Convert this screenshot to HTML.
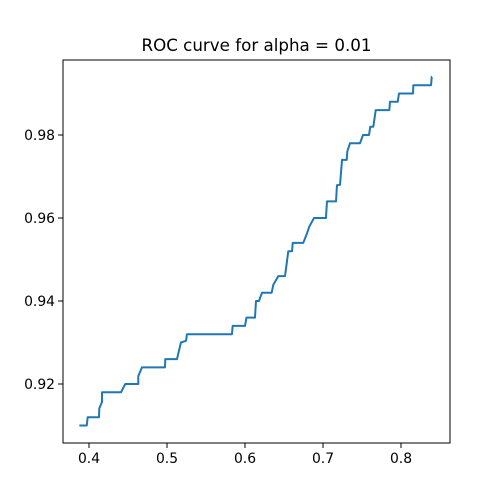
<!DOCTYPE html>
<html><head><meta charset="utf-8"><style>
body{margin:0;background:#fff;}
svg{display:block;font-family:"DejaVu Sans","Liberation Sans",sans-serif;}
</style></head><body>
<svg id="chart" width="500" height="498" viewBox="0 0 500 498">
<rect width="500" height="498" fill="#fff"/>
<text x="256.5" y="51" text-anchor="middle" font-size="16.7" fill="#000">ROC curve for alpha = 0.01</text>
<g id="xticks"></g>
<g id="yticks"></g>
<polyline id="curve" fill="none" stroke="#1f77b4" stroke-width="2" stroke-linejoin="round"/>
<rect x="63" y="60" width="387" height="383" fill="none" stroke="#000" stroke-width="1"/>
</svg>
<script>
const fprValues = [0.3876,0.3971,0.3983,0.4128,0.4132,0.4167,0.4167,0.4410,0.4465,0.4632,0.4632,0.4679,0.4974,0.4978,0.5128,0.5179,0.5244,0.5256,0.5833,0.5842,0.6000,0.6019,0.6128,0.6141,0.6179,0.6218,0.6342,0.6363,0.6427,0.6513,0.6555,0.6603,0.6612,0.6747,0.6795,0.6824,0.6885,0.7038,0.7051,0.7167,0.7179,0.7218,0.7244,0.7304,0.7312,0.7346,0.7474,0.7513,0.7590,0.7606,0.7645,0.7676,0.7850,0.7859,0.7958,0.7974,0.8154,0.8158,0.8385,0.8394,0.8397];
const tprValues = [0.910,0.910,0.912,0.912,0.9141,0.9157,0.918,0.918,0.920,0.920,0.9219,0.924,0.924,0.926,0.926,0.930,0.9304,0.932,0.932,0.934,0.934,0.936,0.936,0.940,0.940,0.942,0.942,0.9439,0.946,0.946,0.952,0.952,0.954,0.954,0.9563,0.9579,0.960,0.960,0.964,0.964,0.9679,0.968,0.974,0.974,0.9761,0.978,0.978,0.980,0.980,0.982,0.982,0.986,0.986,0.988,0.988,0.990,0.990,0.992,0.992,0.994,0.994];
const xTickValues = [0.4,0.5,0.6,0.7,0.8];
const xTickLabels = ["0.4","0.5","0.6","0.7","0.8"];
const yTickValues = [0.92,0.94,0.96,0.98];
const yTickLabels = ["0.92","0.94","0.96","0.98"];
const X0=63,X1=450,Y0=443,Y1=60;
const xMin=0.36667,xMax=0.86282,yMin=0.90578,yMax=0.99807;
function sx(v){return X0+(v-xMin)/(xMax-xMin)*(X1-X0);}
function sy(v){return Y0-(v-yMin)/(yMax-yMin)*(Y0-Y1);}
const NS="http://www.w3.org/2000/svg";
const xg=document.getElementById('xticks'), yg=document.getElementById('yticks');
xTickValues.forEach((v,i)=>{
  const x=sx(v);
  const l=document.createElementNS(NS,'line');
  l.setAttribute('x1',x);l.setAttribute('x2',x);l.setAttribute('y1',Y0);l.setAttribute('y2',Y0+5);l.setAttribute('stroke','#000');
  
  
  xg.appendChild(l);
  const t=document.createElementNS(NS,'text');
  t.setAttribute('x',x);t.setAttribute('y',Y0+20);t.setAttribute('text-anchor','middle');t.setAttribute('font-size','13.9');
  t.textContent=xTickLabels[i];
  
  
  xg.appendChild(t);
});
yTickValues.forEach((v,i)=>{
  const y=sy(v);
  const l=document.createElementNS(NS,'line');
  l.setAttribute('x1',X0-5);l.setAttribute('x2',X0);l.setAttribute('y1',y);l.setAttribute('y2',y);l.setAttribute('stroke','#000');
  
  
  yg.appendChild(l);
  const t=document.createElementNS(NS,'text');
  t.setAttribute('x',X0-8);t.setAttribute('y',y+5);t.setAttribute('text-anchor','end');t.setAttribute('font-size','13.9');
  t.textContent=yTickLabels[i];
  
  
  yg.appendChild(t);
});
document.getElementById('curve').setAttribute('points',fprValues.map((v,i)=>sx(v).toFixed(2)+','+sy(tprValues[i]).toFixed(2)).join(' '));
</script>
</body></html>
